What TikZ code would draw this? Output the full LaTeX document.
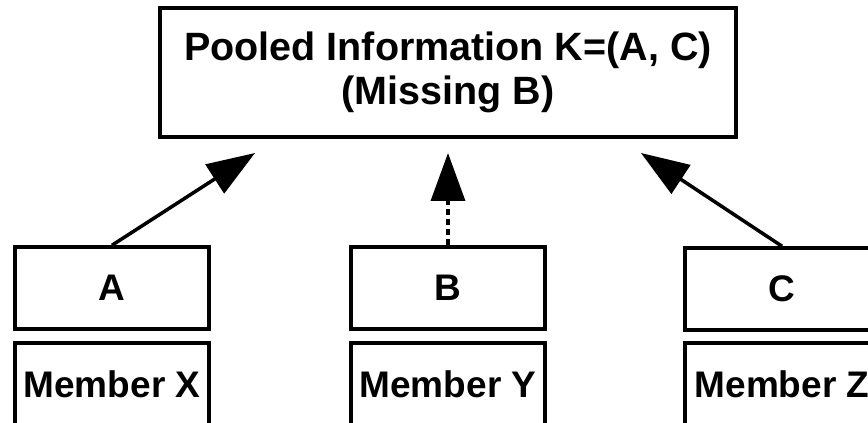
\documentclass[tikz,border=0pt]{standalone}
\usepackage{fontspec}
\setmainfont{Liberation Sans}
\usetikzlibrary{arrows.meta}

\tikzset{
  box/.style={draw, line width=3.5pt, minimum width=194pt, minimum height=82pt, inner sep=0pt,
    font=\bfseries\fontsize{37}{42}\selectfont},
  link/.style={line width=3.5pt, -{Triangle[length=48pt,width=34pt]}}
}

\begin{document}
\begin{tikzpicture}[x=1pt,y=1pt]
  %%%%% START %%%%%
  \clip (0,0) rectangle (868,423);
  \fill[white] (0,0) rectangle (868,423);

  \node[box, minimum width=576pt, minimum height=129pt, align=center,
    font=\bfseries\fontsize{39.5}{44}\selectfont] (pool) at (448,350.5)
    {Pooled Information K=(A, C)\\(Missing B)};

  \node[box] (A) at (112,135) {A};
  \node[box] (B) at (448,135) {B};
  \node[box] (C) at (782,134) {C};

  \node[box] (memX) at (112,39) {Member X};
  \node[box] (memY) at (448,39) {Member Y};
  \node[box] (memZ) at (782,39) {Member Z};

  \coordinate (tipA) at (255,270);
  \coordinate (tipB) at (448,270);
  \coordinate (tipC) at (641,270);

  \draw[link] (A.north) -- (tipA);
  \draw[link, dash pattern=on 6pt off 4pt] (B.north) -- (tipB);
  \draw[link] (C.north) -- (tipC);
  %%%%% END %%%%%
\end{tikzpicture}
\end{document}
